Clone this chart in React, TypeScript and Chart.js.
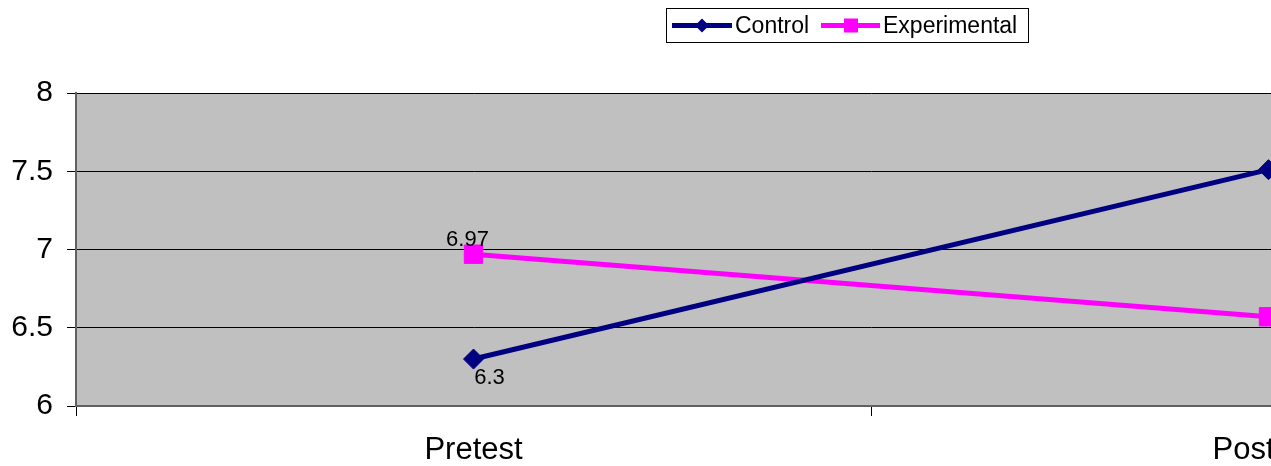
import React, { useEffect, useRef } from "react";
import { Chart, registerables } from "chart.js";

Chart.register(...registerables);

const categories = ["Pretest", "Posttest"];
const controlValues = [6.3, 7.51];
const experimentalValues = [6.97, 6.57];
const yTicks = [6, 6.5, 7, 7.5, 8];
const seriesNames = ["Control", "Experimental"];

const FONT = "Arial, 'Liberation Sans', sans-serif";
const NAVY = "#000080";
const MAGENTA = "#FF00FF";

const legendPlugin = {
  id: "boxLegend",
  afterDraw(chart: any) {
    const ctx = chart.ctx;
    ctx.save();
    ctx.fillStyle = "#ffffff";
    ctx.fillRect(666.5, 8.5, 362, 34);
    ctx.strokeStyle = "#000000";
    ctx.lineWidth = 1;
    ctx.strokeRect(666.5, 8.5, 362, 34);
    const y = 25.5;
    // Control
    ctx.strokeStyle = NAVY;
    ctx.lineWidth = 5;
    ctx.beginPath();
    ctx.moveTo(672, y);
    ctx.lineTo(732, y);
    ctx.stroke();
    ctx.fillStyle = NAVY;
    ctx.beginPath();
    ctx.moveTo(702 - 7, y);
    ctx.lineTo(702, y - 7);
    ctx.lineTo(702 + 7, y);
    ctx.lineTo(702, y + 7);
    ctx.closePath();
    ctx.fill();
    // Experimental
    ctx.strokeStyle = MAGENTA;
    ctx.beginPath();
    ctx.moveTo(821, y);
    ctx.lineTo(880, y);
    ctx.stroke();
    ctx.fillStyle = MAGENTA;
    ctx.fillRect(851 - 7, y - 7, 14, 14);
    ctx.fillStyle = "#000000";
    ctx.font = `23px ${FONT}`;
    ctx.textBaseline = "middle";
    ctx.textAlign = "left";
    ctx.fillText(seriesNames[0], 735, y + 1);
    ctx.fillText(seriesNames[1], 883, y + 1);
    ctx.restore();
  },
};

// per-series, per-point label offsets (Posttest labels sit to the right, out of view)
const labelOffsets = [
  [{ dx: 16, dy: 19 }, { dx: 40, dy: 0 }],
  [{ dx: -6, dy: -14 }, { dx: 40, dy: 0 }],
];

const dataLabelPlugin = {
  id: "dataLabels",
  afterDatasetsDraw(chart: any) {
    const ctx = chart.ctx;
    ctx.save();
    ctx.font = `22px ${FONT}`;
    ctx.fillStyle = "#000000";
    ctx.textAlign = "center";
    ctx.textBaseline = "middle";
    chart.data.datasets.forEach((ds: any, i: number) => {
      const meta = chart.getDatasetMeta(i);
      meta.data.forEach((pt: any, j: number) => {
        const off = labelOffsets[i][j];
        ctx.fillText(String(ds.data[j]), pt.x + off.dx, pt.y + off.dy);
      });
    });
    ctx.restore();
  },
};

const bgPlugin = {
  id: "plotBg",
  beforeDraw(chart: any) {
    const { ctx, chartArea } = chart;
    ctx.save();
    ctx.fillStyle = "#C0C0C0";
    ctx.fillRect(chartArea.left, chartArea.top, chartArea.right - chartArea.left, chartArea.bottom - chartArea.top);
    ctx.restore();
  },
};

export default function App() {
  const ref = useRef<HTMLCanvasElement>(null);
  useEffect(() => {
    if (!ref.current) return;
    const chart = new Chart(ref.current, {
      type: "line",
      data: {
        labels: categories,
        datasets: [
          {
            label: seriesNames[0],
            data: controlValues,
            borderColor: NAVY,
            backgroundColor: NAVY,
            borderWidth: 5,
            pointStyle: "rectRot",
            pointRadius: 10,
            pointBorderWidth: 1,
            pointBackgroundColor: NAVY,
            pointBorderColor: NAVY,
            tension: 0,
          },
          {
            label: seriesNames[1],
            data: experimentalValues,
            borderColor: MAGENTA,
            backgroundColor: MAGENTA,
            borderWidth: 5,
            pointStyle: "rect",
            pointRadius: 13,
            pointBorderWidth: 1,
            pointBackgroundColor: MAGENTA,
            pointBorderColor: MAGENTA,
            tension: 0,
          },
        ],
      },
      options: {
        responsive: false,
        animation: false,
        devicePixelRatio: 1,
        layout: { padding: { top: 93, right: 34, left: 0, bottom: 0 } },
        plugins: { legend: { display: false }, tooltip: { enabled: false } },
        scales: {
          x: {
            type: "category",
            offset: true,
            grid: {
              offset: true,
              drawOnChartArea: false,
              drawTicks: true,
              tickLength: 10,
              tickColor: "#000000",
              lineWidth: 1,
            },
            border: { color: "#606060", width: 2 },
            ticks: {
              color: "#000000",
              font: { family: FONT, size: 31 },
              padding: 16,
            },
            afterFit(scale: any) {
              scale.height = 60;
            },
          },
          y: {
            min: 6,
            max: 8,
            afterBuildTicks(scale: any) {
              scale.ticks = yTicks.map((v) => ({ value: v }));
            },
            grid: {
              color: "#000000",
              lineWidth: 1,
              tickLength: 9,
              tickColor: "#000000",
            },
            border: { color: "#606060", width: 2 },
            ticks: {
              color: "#000000",
              font: { family: FONT, size: 30 },
              padding: 14,
              callback: (v: any) => String(v),
            },
            afterFit(scale: any) {
              scale.width = 76;
            },
          },
        },
      },
      plugins: [bgPlugin, dataLabelPlugin, legendPlugin],
    });
    return () => chart.destroy();
  }, []);
  return (
    <div
      style={{
        position: "fixed",
        left: 0,
        top: 0,
        width: 1271,
        height: 466,
        overflow: "hidden",
        background: "#ffffff",
      }}
    >
      <canvas ref={ref} width={1700} height={466} style={{ display: "block" }} />
    </div>
  );
}
